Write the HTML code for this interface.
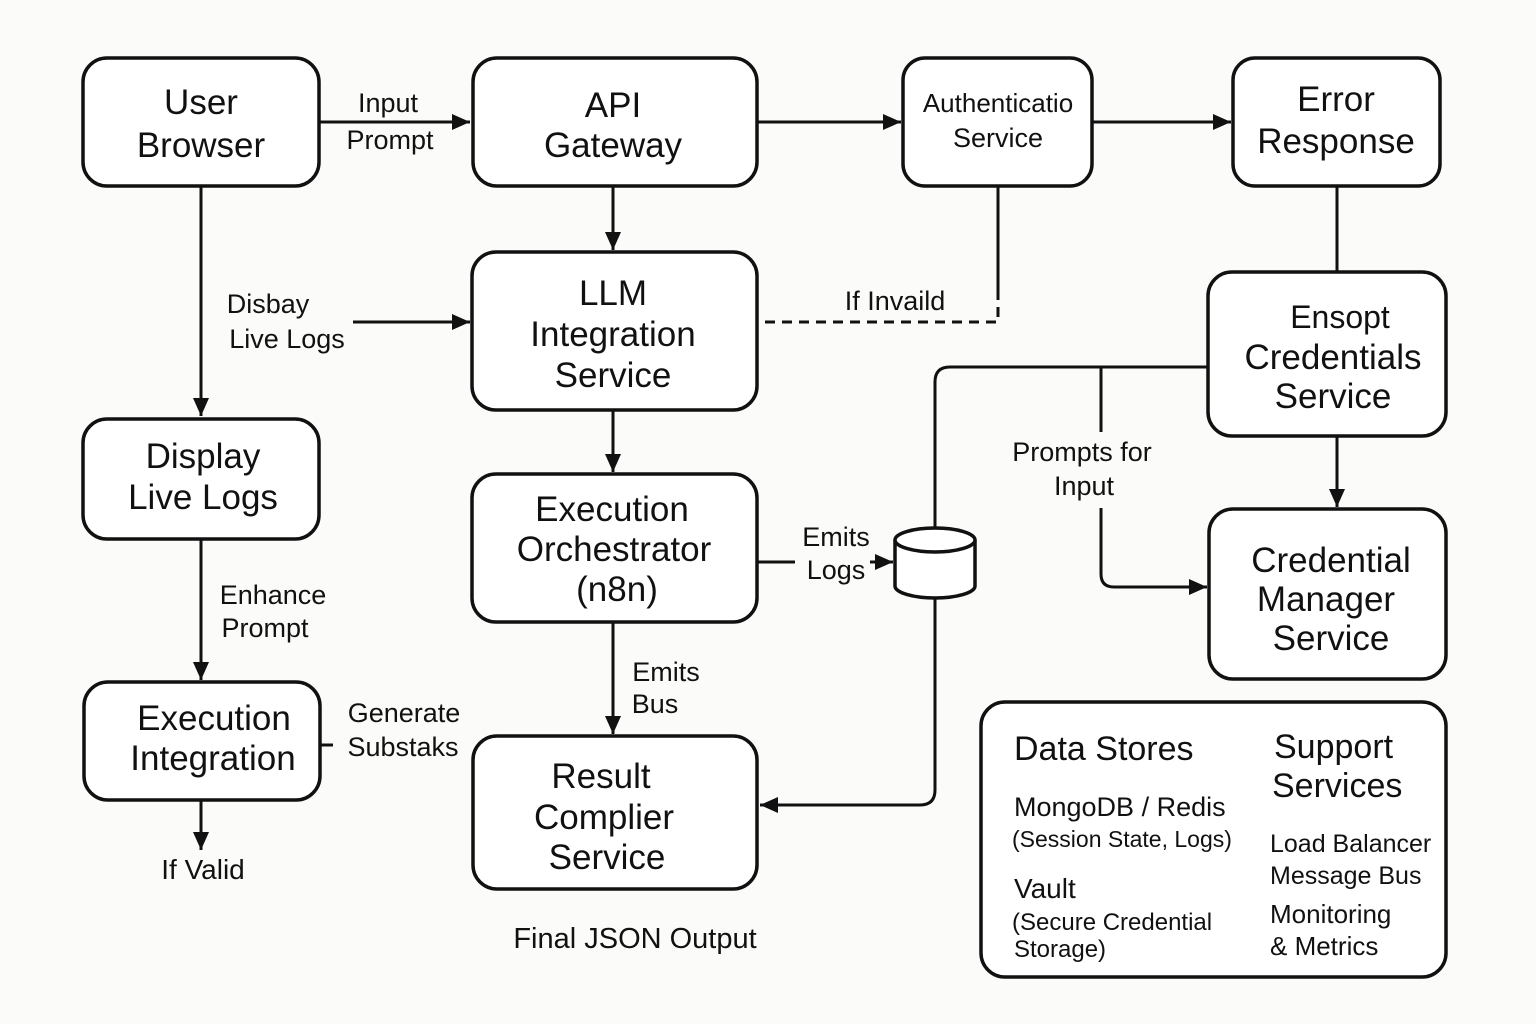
<!DOCTYPE html>
<html><head><meta charset="utf-8"><style>
html,body{margin:0;padding:0;background:#fbfbf9;}
svg{display:block}
text{font-family:"Liberation Sans",sans-serif;fill:#111;}
.b{fill:#fff;stroke:#111;stroke-width:3.5}
.l{stroke:#111;stroke-width:3;fill:none}
.t{font-size:35px;text-anchor:middle}
.s{font-size:27px;text-anchor:middle}
</style></head><body>
<svg width="1536" height="1024" viewBox="0 0 1536 1024">
<defs>
<marker id="A" markerWidth="20" markerHeight="20" refX="18" refY="10" orient="auto" markerUnits="userSpaceOnUse"><path d="M0,2L18,10L0,18z" fill="#111"/></marker></defs>
<rect x="0" y="0" width="1536" height="1024" fill="#fbfbf9"/>
<path class="l" d="M320,122H470" marker-end="url(#A)"/>
<path class="l" d="M757,122H901" marker-end="url(#A)"/>
<path class="l" d="M1092,122H1231" marker-end="url(#A)"/>
<path class="l" d="M613,186V250" marker-end="url(#A)"/>
<path class="l" d="M201,186V416" marker-end="url(#A)"/>
<path class="l" d="M353,322H470" marker-end="url(#A)"/>
<path class="l" d="M998,186V290"/>
<path class="l" d="M998,290V322H757" stroke-dasharray="10,7"/>
<path class="l" d="M1337,186V272"/>
<path class="l" d="M1337,436V507" marker-end="url(#A)"/>
<path class="l" d="M1208,367H950Q935,367 935,382V530"/>
<path class="l" d="M1101,367V432"/>
<path class="l" d="M1101,508V574Q1101,587 1114,587H1207" marker-end="url(#A)"/>
<path class="l" d="M613,410V472" marker-end="url(#A)"/>
<path class="l" d="M757,562H795"/>
<path class="l" d="M870,562H893" marker-end="url(#A)"/>
<path class="l" d="M935,597V790Q935,805 920,805H760" marker-end="url(#A)"/>
<path class="l" d="M613,622V734" marker-end="url(#A)"/>
<path class="l" d="M201,539V680" marker-end="url(#A)"/>
<path class="l" d="M201,800V850" marker-end="url(#A)"/>
<path class="l" d="M320,745H333"/>
<rect class="b" x="83" y="58" width="236" height="128" rx="24"/>
<rect class="b" x="473" y="58" width="284" height="128" rx="24"/>
<rect class="b" x="903" y="58" width="189" height="128" rx="22"/>
<rect class="b" x="1233" y="58" width="207" height="128" rx="22"/>
<rect class="b" x="472" y="252" width="285" height="158" rx="24"/>
<rect class="b" x="1208" y="272" width="238" height="164" rx="24"/>
<rect class="b" x="83" y="419" width="236" height="120" rx="24"/>
<rect class="b" x="472" y="474" width="285" height="148" rx="24"/>
<rect class="b" x="1209" y="509" width="237" height="170" rx="24"/>
<rect class="b" x="84" y="682" width="236" height="118" rx="24"/>
<rect class="b" x="473" y="736" width="284" height="153" rx="24"/>
<rect class="b" x="981" y="702" width="465" height="275" rx="24"/>
<path class="b" d="M895,540V586A40,12 0 0 0 975,586V540"/>
<ellipse class="b" cx="935" cy="540" rx="40" ry="12"/>
<text class="t" x="201" y="114">User</text><text class="t" x="201" y="157">Browser</text>
<text class="t" x="613" y="117">API</text><text class="t" x="613" y="157">Gateway</text>
<text class="s" x="998" y="112" style="font-size:26px">Authenticatio</text><text class="s" x="998" y="147">Service</text>
<text class="t" x="1336" y="111">Error</text><text class="t" x="1336" y="153">Response</text>
<text class="t" x="613" y="305">LLM</text><text class="t" x="613" y="346">Integration</text><text class="t" x="613" y="387">Service</text>
<text class="t" x="1340" y="328" style="font-size:32px">Ensopt</text><text class="t" x="1333" y="369">Credentials</text><text class="t" x="1333" y="408">Service</text>
<text class="t" x="203" y="468">Display</text><text class="t" x="203" y="509">Live Logs</text>
<text class="t" x="612" y="521">Execution</text><text class="t" x="614" y="561">Orchestrator</text><text class="t" x="617" y="601">(n8n)</text>
<text class="t" x="1331" y="572">Credential</text><text class="t" x="1326" y="611">Manager</text><text class="t" x="1331" y="650">Service</text>
<text class="t" x="214" y="730">Execution</text><text class="t" x="213" y="770">Integration</text>
<text class="t" x="601" y="788">Result</text><text class="t" x="604" y="829">Complier</text><text class="t" x="607" y="869">Service</text>
<text class="s" x="388" y="112">Input</text><text class="s" x="390" y="149">Prompt</text>
<text class="s" x="268" y="313">Disbay</text><text class="s" x="287" y="348">Live Logs</text>
<text class="s" x="895" y="310">If Invaild</text>
<text class="s" x="1082" y="461">Prompts for</text><text class="s" x="1084" y="495">Input</text>
<text class="s" x="836" y="546">Emits</text><text class="s" x="836" y="579">Logs</text>
<text class="s" x="666" y="681">Emits</text><text class="s" x="655" y="713">Bus</text>
<text class="s" x="273" y="604">Enhance</text><text class="s" x="265" y="637">Prompt</text>
<text class="s" x="404" y="722">Generate</text><text class="s" x="403" y="756">Substaks</text>
<text class="s" x="203" y="879" style="font-size:28px">If Valid</text>
<text class="s" x="635" y="948" style="font-size:29px">Final JSON Output</text>
<text x="1014" y="760" font-size="34">Data Stores</text>
<text x="1014" y="816" font-size="27">MongoDB / Redis</text>
<text x="1012" y="847" font-size="23">(Session State, Logs)</text>
<text x="1014" y="898" font-size="28">Vault</text>
<text x="1012" y="930" font-size="24">(Secure Credential</text>
<text x="1014" y="957" font-size="24">Storage)</text>
<text x="1274" y="758" font-size="34">Support</text>
<text x="1272" y="797" font-size="34">Services</text>
<text x="1270" y="852" font-size="25">Load Balancer</text>
<text x="1270" y="884" font-size="25">Message Bus</text>
<text x="1270" y="923" font-size="26">Monitoring</text>
<text x="1270" y="955" font-size="26">&amp; Metrics</text>
</svg>
</body></html>
